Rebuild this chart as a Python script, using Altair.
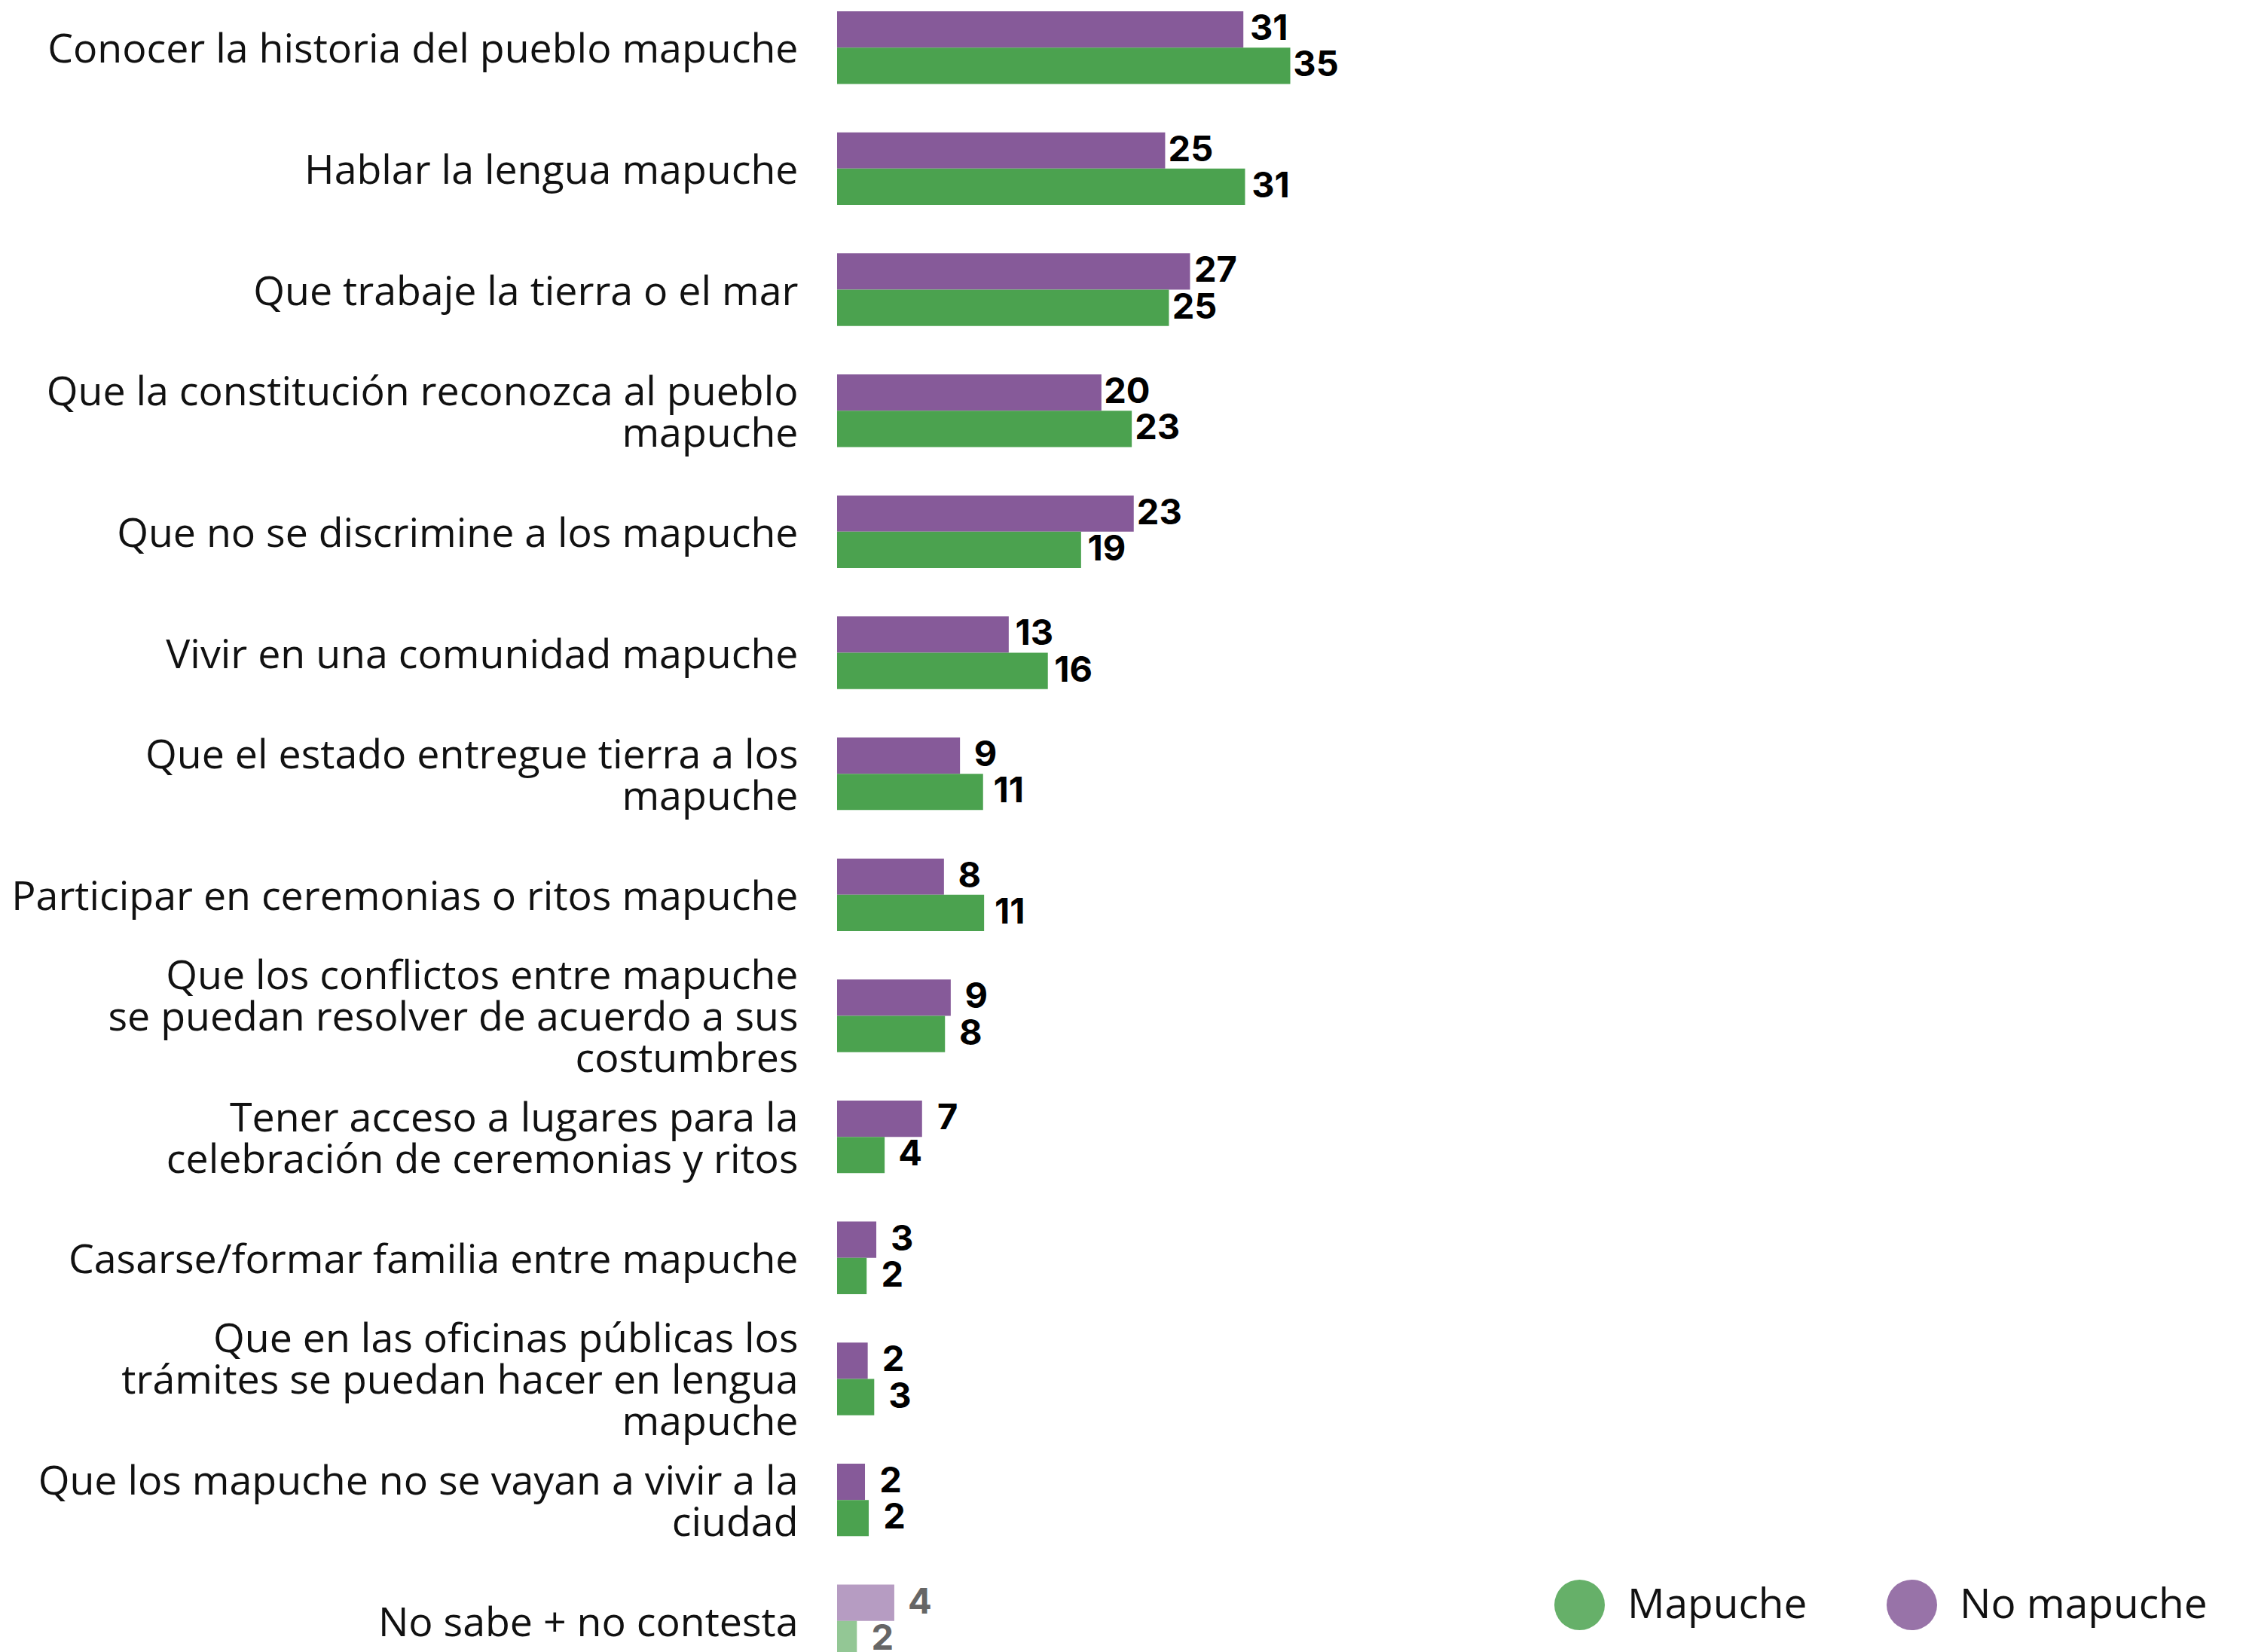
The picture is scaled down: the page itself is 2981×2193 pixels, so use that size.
import altair as alt
import pandas as pd

categorias = [
    "Conocer la historia del pueblo mapuche",
    "Hablar la lengua mapuche",
    "Que trabaje la tierra o el mar",
    "Que la constitución reconozca al pueblo|mapuche",
    "Que no se discrimine a los mapuche",
    "Vivir en una comunidad mapuche",
    "Que el estado entregue tierra a los|mapuche",
    "Participar en ceremonias o ritos mapuche",
    "Que los conflictos entre mapuche|se puedan resolver de acuerdo a sus|costumbres",
    "Tener acceso a lugares para la|celebración de ceremonias y ritos",
    "Casarse/formar familia entre mapuche",
    "Que en las oficinas públicas los|trámites se puedan hacer en lengua|mapuche",
    "Que los mapuche no se vayan a vivir a la|ciudad",
    "No sabe + no contesta",
]

# bar lengths (percent)
no_mapuche = [31.17, 25.17, 27.08, 20.28, 22.76, 13.17, 9.43, 8.20, 8.72, 6.52, 3.01, 2.35, 2.14, 4.39]
mapuche = [34.77, 31.30, 25.46, 22.61, 18.72, 16.17, 11.20, 11.28, 8.28, 3.65, 2.27, 2.85, 2.43, 1.52]

# printed labels
etiqueta_no_mapuche = [31, 25, 27, 20, 23, 13, 9, 8, 9, 7, 3, 2, 2, 4]
etiqueta_mapuche = [35, 31, 25, 23, 19, 16, 11, 11, 8, 4, 2, 3, 2, 2]

series = ["Mapuche", "No mapuche"]
colores = ["#4BA24F", "#865A99"]
ns_nc = "No sabe + no contesta"

FONT = "Open Sans"
FSIZE = 53.7
LINE_H = 55
SHIFT = 4

rows = []
for i, c in enumerate(categorias):
    rows.append({"cat": c, "grupo": "No mapuche", "valor": no_mapuche[i], "etq": str(etiqueta_no_mapuche[i])})
    rows.append({"cat": c, "grupo": "Mapuche", "valor": mapuche[i], "etq": str(etiqueta_mapuche[i])})
df = pd.DataFrame(rows)

y_enc = alt.Y(
    "cat:N",
    sort=categorias,
    scale=alt.Scale(paddingInner=0.4, paddingOuter=0),
    axis=alt.Axis(
        title=None,
        domain=False,
        ticks=False,
        labelExpr="split(datum.value, '|')",
        labelFont=FONT,
        labelFontSize=FSIZE,
        labelLineHeight=LINE_H,
        labelColor="#111111",
        labelPadding=52,
        labelLimit=1400,
        labelOffset={
            "condition": [
                {"test": "length(split(datum.value, '|')) == 3", "value": -LINE_H + SHIFT},
                {"test": "length(split(datum.value, '|')) == 2", "value": -LINE_H / 2 + SHIFT},
            ],
            "value": SHIFT,
        },
    ),
)
yoff_enc = alt.YOffset(
    "grupo:N",
    sort=["No mapuche", "Mapuche"],
    scale=alt.Scale(paddingInner=0, paddingOuter=0),
)
x_enc = alt.X("valor:Q", scale=alt.Scale(domain=[0, 100], nice=False, zero=True), axis=None)

bars = alt.Chart(df).mark_bar().encode(
    y=y_enc,
    yOffset=yoff_enc,
    x=x_enc,
    color=alt.Color(
        "grupo:N",
        scale=alt.Scale(domain=series, range=colores),
        legend=alt.Legend(
            title=None,
            orient="none",
            legendX=952,
            legendY=2082,
            direction="horizontal",
            symbolType="circle",
            symbolSize=4489,
            symbolOpacity=0.85,
            symbolStrokeWidth=0,
            labelFont=FONT,
            labelFontSize=55,
            labelColor="#111111",
            labelOffset=30,
            labelLimit=600,
            columnPadding=105,
        ),
    ),
    opacity=alt.condition(alt.datum.cat == ns_nc, alt.value(0.6), alt.value(1.0)),
)

texts = alt.Chart(df).mark_text(
    font="Inter", fontWeight=700, fontSize=47, align="center", baseline="middle", dx=34
).encode(
    y=y_enc,
    yOffset=yoff_enc,
    x=x_enc,
    text="etq:N",
    color=alt.condition(alt.datum.cat == ns_nc, alt.value("#666666"), alt.value("#000000")),
)

chart = (
    alt.layer(bars, texts)
    .properties(
        width=1730,
        height=2185,
        autosize=alt.AutoSizeParams(type="none"),
        padding={"left": 1103, "top": 7, "right": 110, "bottom": 0},
    )
    .configure_view(stroke=None)
)

chart.save("out.html", embed_options={"renderer": "svg", "actions": False})
